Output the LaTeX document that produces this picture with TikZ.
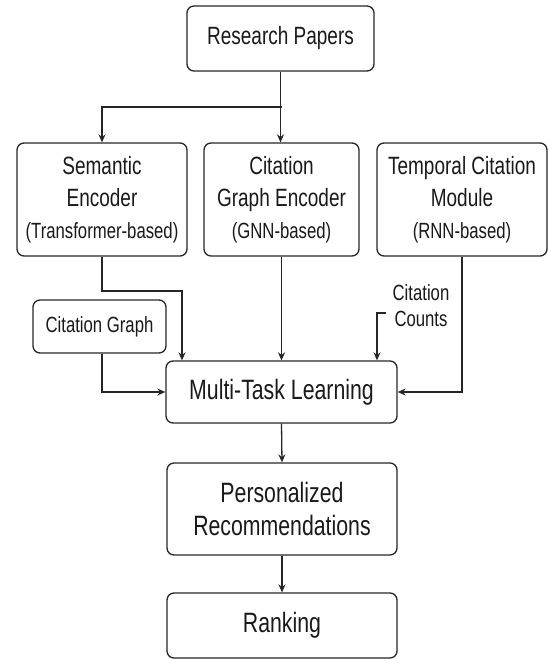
\documentclass[tikz,border=0pt]{standalone}
\usepackage{fontspec}
\setmainfont{Liberation Sans}[FakeStretch=0.76]
\usetikzlibrary{arrows.meta}
\begin{document}
\begin{tikzpicture}[x=1pt,y=-1pt,
  box/.style={draw=black!85, line width=1.3pt, rounded corners=7pt, align=center, inner sep=0pt, text=black!90},
  big/.style={font=\fontsize{28}{33}\selectfont},
  mid/.style={font=\fontsize{25}{32}\selectfont},
  sml/.style={font=\fontsize{22}{26}\selectfont},
  arr/.style={draw=black!85, line width=1.3pt, -{Stealth[length=8pt,width=7pt]}}]
\useasboundingbox (0,0) rectangle (548,659);

\node[box, mid, minimum width=187pt, minimum height=65pt] (rp) at (280.5,38.5) {Research Papers};
\node[box, mid, minimum width=170pt, minimum height=113pt] (sem) at (102,199.5)
  {Semantic\\Encoder\\{\fontsize{22}{32}\selectfont (Transformer-based)}};
\node[box, mid, minimum width=155pt, minimum height=113pt] (cge) at (281.5,199.5)
  {Citation\\Graph Encoder\\{\fontsize{22}{32}\selectfont (GNN-based)}};
\node[box, mid, minimum width=170pt, minimum height=113pt] (tem) at (462,199.5)
  {Temporal Citation\\Module\\{\fontsize{22}{32}\selectfont (RNN-based)}};
\node[box, sml, minimum width=133pt, minimum height=53pt] (cg) at (99.5,326.5) {Citation Graph};
\node[sml, align=center, inner sep=0pt, text=black!90] (cc) at (421,306) {Citation\\Counts};
\node[box, big, minimum width=231pt, minimum height=62pt] (mtl) at (281.5,392) {Multi-Task Learning};
\node[box, big, minimum width=230pt, minimum height=92pt] (pr) at (282,509) {Personalized\\Recommendations};
\node[box, big, minimum width=230pt, minimum height=65pt] (rk) at (282,625.5) {Ranking};

\coordinate (j) at (281.5,107);
\coordinate (sbend) at (182,291);
\coordinate (ccs) at (386,313);
\coordinate (ccx) at (377,0);

\draw[arr] (rp.south) -- (rp.south |- cge.north);
\draw[arr] (j) -| (sem.north);
\draw[arr] (sem.south) |- (sbend) -- (sbend |- mtl.north);
\draw[arr] (cge.south) -- (cge.south |- mtl.north);
\draw[arr] (tem.south) |- (mtl.east);
\draw[arr] (cg.south -| sem.south) |- (mtl.west);
\draw[arr] (ccs) -| (ccx |- mtl.north);
\draw[arr] (mtl.south) -- (pr.north);
\draw[arr] (pr.south) -- (rk.north);
\end{tikzpicture}
\end{document}
